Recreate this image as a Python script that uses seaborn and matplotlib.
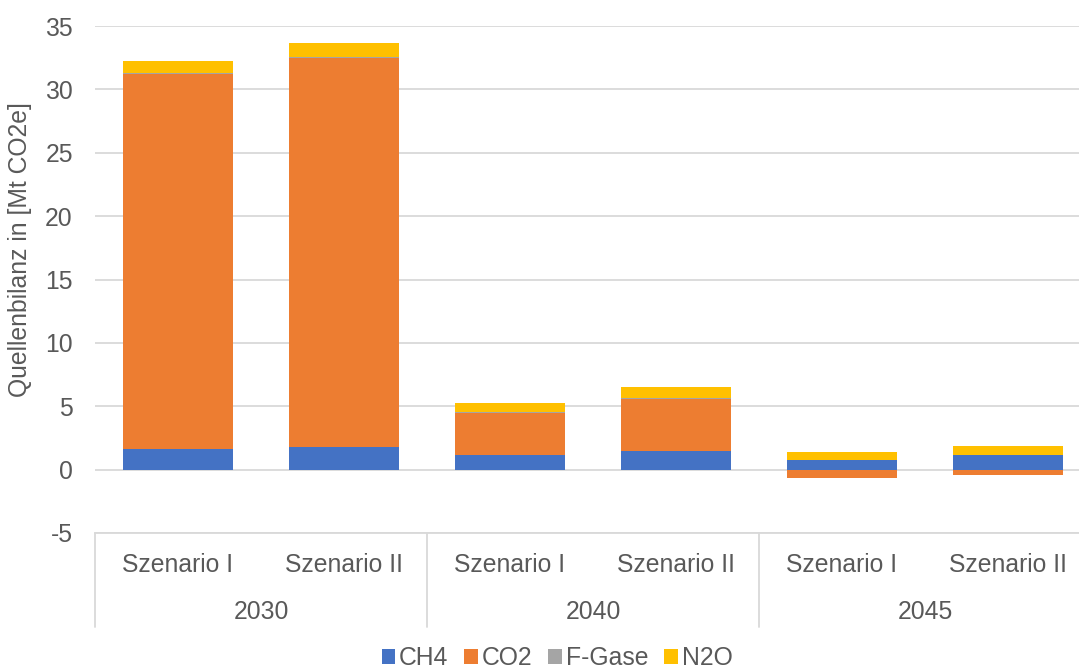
import matplotlib
matplotlib.use("Agg")
import matplotlib.pyplot as plt
import matplotlib.transforms as mtransforms
from matplotlib.lines import Line2D
from matplotlib.patches import Patch
import numpy as np
import pandas as pd
import seaborn as sns

# ---- data ----
years = ["2030", "2030", "2040", "2040", "2045", "2045"]
scenarios = ["Szenario I", "Szenario II", "Szenario I", "Szenario II", "Szenario I", "Szenario II"]
ch4 = [1.63, 1.79, 1.13, 1.47, 0.74, 1.16]
co2 = [29.55, 30.70, 3.35, 4.13, -0.68, -0.45]
fgase = [0.08, 0.08, 0.05, 0.05, 0.03, 0.03]
n2o = [1.00, 1.05, 0.72, 0.86, 0.65, 0.70]
series_names = ["CH4", "CO2", "F-Gase", "N2O"]
colors = ["#4472C4", "#ED7D31", "#A5A5A5", "#FFC000"]
yticks = [-5, 0, 5, 10, 15, 20, 25, 30, 35]

sns.set_theme(style="white")
plt.rcParams["font.family"] = ["Liberation Sans", "DejaVu Sans"]
txt_color = "#595959"
grid_color = "#D9D9D9"
fs = 17.8

W, H = 1079, 671
fig = plt.figure(figsize=(W / 100, H / 100), dpi=100)
ax_left, ax_right = 95, 1091
ax_top, ax_bottom = 26, 533
ax = fig.add_axes([ax_left / W, 1 - ax_bottom / H, (ax_right - ax_left) / W, (ax_bottom - ax_top) / H])

keys = [f"{y}|{s}" for y, s in zip(years, scenarios)]
vals = np.array([ch4, co2, fgase, n2o])

# positive stacking (negatives stack separately downward)
pos = np.where(vals > 0, vals, 0)
neg = np.where(vals < 0, vals, 0)
cum_pos = np.cumsum(pos, axis=0)
cum_neg = np.cumsum(neg, axis=0)

width = 0.663
for i in range(len(series_names) - 1, -1, -1):
    df = pd.DataFrame({"k": keys, "v": cum_pos[i]})
    sns.barplot(data=df, x="k", y="v", order=keys, color=colors[i], width=width,
                saturation=1, ax=ax, edgecolor="none", linewidth=0, zorder=3)
for i in range(len(series_names) - 1, -1, -1):
    if np.any(neg[i] < 0):
        df = pd.DataFrame({"k": keys, "v": cum_neg[i]})
        sns.barplot(data=df, x="k", y="v", order=keys, color=colors[i], width=width,
                    saturation=1, ax=ax, edgecolor="none", linewidth=0, zorder=3)

ax.set_xlim(-0.5, len(keys) - 0.5)
ax.set_ylim(-5, 35)
ax.set_yticks(yticks)
ax.set_yticklabels([str(t) for t in yticks], fontsize=fs, color=txt_color)
ax.tick_params(axis="y", length=0, pad=16)
ax.set_xticks([])
ax.set_xlabel("")
ax.set_ylabel("")
ax.grid(axis="y", color=grid_color, linewidth=1.3, zorder=0)
ax.set_axisbelow(True)
for s in ["top", "right", "left"]:
    ax.spines[s].set_visible(False)
ax.spines["bottom"].set_color(grid_color)
ax.spines["bottom"].set_linewidth(1.3)

# category axis labels
trans = mtransforms.blended_transform_factory(ax.transData, fig.transFigure)
for i, s in enumerate(scenarios):
    ax.text(i, 1 - 565 / H, s, transform=trans, ha="center", va="center",
            fontsize=fs, color=txt_color, clip_on=False)
for g in range(3):
    ax.text(2 * g + 0.5, 1 - 612 / H, years[2 * g], transform=trans, ha="center", va="center",
            fontsize=fs, color=txt_color, clip_on=False)
for xs in [-0.5, 1.5, 3.5, 5.5]:
    ax.add_line(Line2D([xs, xs], [1 - 533 / H, 1 - 627 / H], transform=trans,
                       color=grid_color, linewidth=1.3, clip_on=False))

fig.text(20 / W, 1 - 250 / H, "Quellenbilanz in [Mt CO2e]", rotation=90, ha="center", va="center",
         fontsize=fs, color=txt_color)

handles = [Patch(facecolor=c, edgecolor="none") for c in colors]
fig.legend(handles, series_names, loc="center", bbox_to_anchor=(557 / W, 1 - 658 / H), ncol=4,
           frameon=False, fontsize=fs, handlelength=0.55, handleheight=0.55, handletextpad=0.15,
           columnspacing=0.65, labelcolor=txt_color, borderaxespad=0, borderpad=0)

fig.savefig("out.png", dpi=100)
